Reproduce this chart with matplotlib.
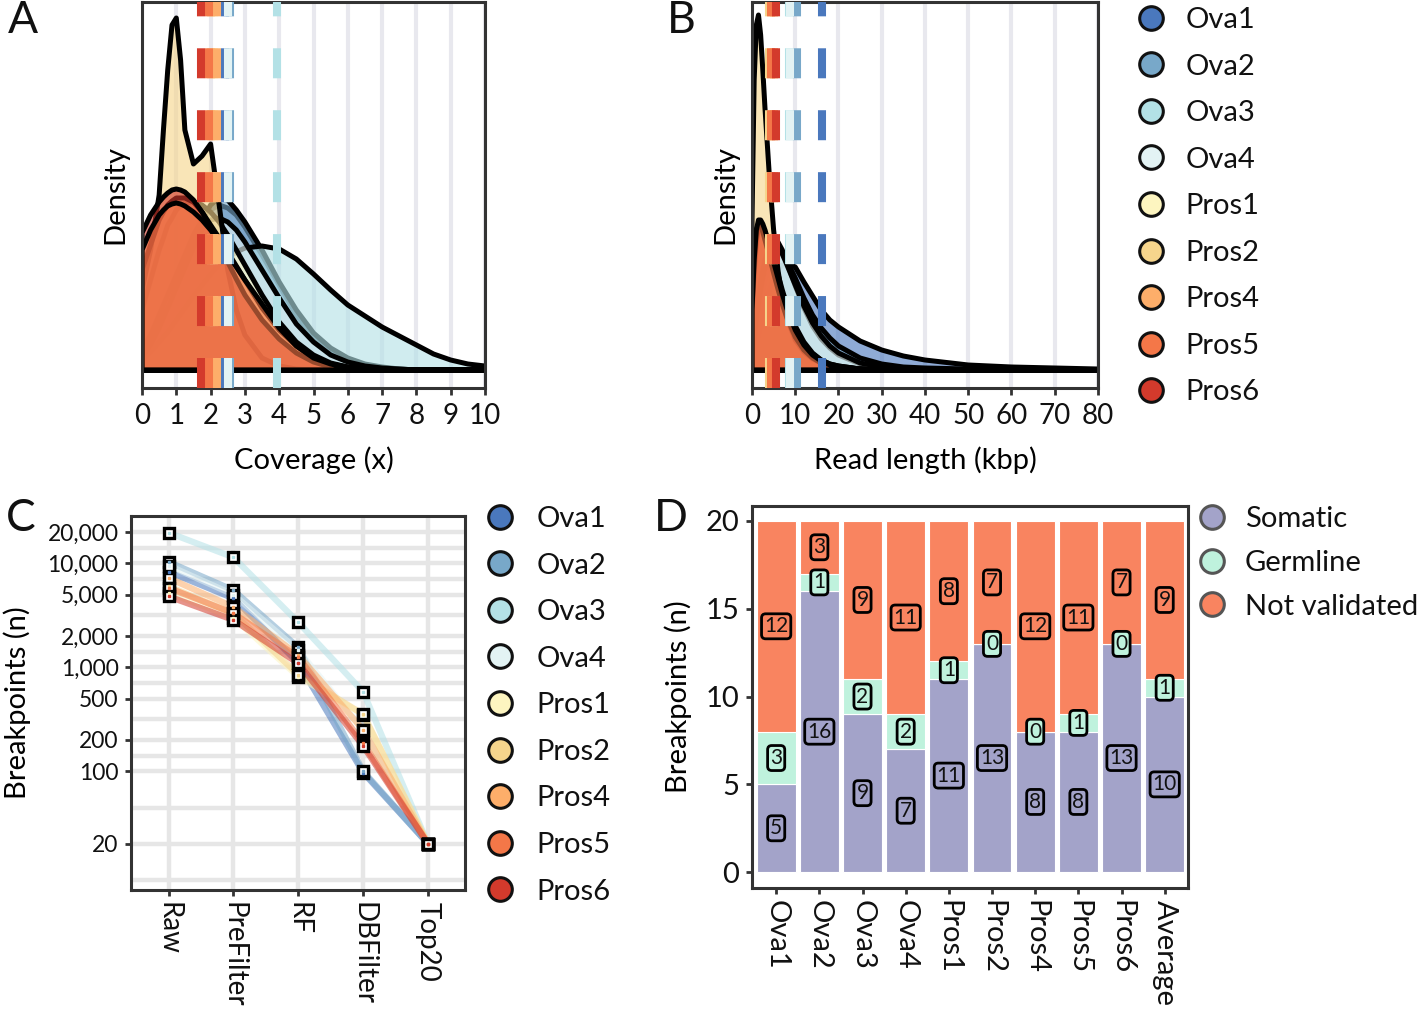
import numpy as np
import matplotlib
matplotlib.use('Agg')
from matplotlib import pyplot as plt
from matplotlib.lines import Line2D
from matplotlib.colors import to_rgba

plt.rcParams['font.family'] = ['Lato', 'DejaVu Sans']
plt.rcParams['lines.scale_dashes'] = False
plt.rcParams['text.color'] = '#111111'
plt.rcParams['xtick.color'] = '#333333'
plt.rcParams['ytick.color'] = '#333333'
plt.rcParams['xtick.labelcolor'] = '#111111'
plt.rcParams['ytick.labelcolor'] = '#111111'

samples = ['Ova1', 'Ova2', 'Ova3', 'Ova4', 'Pros1', 'Pros2', 'Pros4', 'Pros5', 'Pros6']
sample_colors = ['#4a78bd', '#78a8c9', '#b3e1e6', '#e3f3f4', '#fdf5c0',
                 '#f6d58c', '#fdae6a', '#f47748', '#d33a2c']

# --- A: coverage density (relative density)
cov_x = [0, 0.25, 0.5, 0.625, 0.75, 0.875, 1.0, 1.125, 1.25, 1.5, 1.75, 2.0, 2.25, 2.5, 2.75,
         3.0, 3.5, 4.0, 4.5, 5.0, 5.5, 6.0, 6.5, 7.0, 7.5, 8.0, 8.5, 9.0, 9.5, 10.0]
cov_ova1 = [20, 35, 55, 65, 75, 85, 95, 105, 115, 135, 150, 160, 165, 162, 155,
            143, 115, 85, 55, 33, 18, 9, 4, 2, 1, 0, 0, 0, 0, 0]
cov_ova2 = [15, 28, 45, 55, 62, 70, 85, 95, 105, 130, 150, 165, 172, 170, 160,
            148, 120, 88, 60, 37, 22, 12, 6, 3, 1, 0, 0, 0, 0, 0]
cov_ova3 = [10, 18, 28, 33, 38, 44, 50, 56, 62, 74, 85, 96, 105, 112, 118,
            122, 124, 121, 111, 96, 80, 65, 54, 43, 34, 25, 16, 10, 6, 4]
cov_ova4 = [12, 25, 42, 52, 62, 72, 82, 92, 102, 122, 140, 150, 152, 148, 140,
            128, 100, 72, 46, 28, 15, 8, 4, 2, 1, 0, 0, 0, 0, 0]
cov_pros1 = [60, 90, 120, 132, 145, 152, 160, 164, 167, 168, 165, 158, 148, 135, 120,
             105, 75, 48, 28, 15, 7, 3, 1, 0, 0, 0, 0, 0, 0, 0]
cov_pros2 = [80, 120, 175, 240, 300, 345, 352, 310, 240, 206, 214, 226, 165, 100, 60,
             35, 12, 4, 1, 0, 0, 0, 0, 0, 0, 0, 0, 0, 0, 0]
cov_pros4 = [100, 125, 150, 158, 165, 169, 172, 172, 172, 168, 158, 145, 132, 118, 104,
             90, 62, 40, 24, 12, 6, 3, 1, 0, 0, 0, 0, 0, 0, 0]
cov_pros5 = [120, 140, 155, 160, 164, 166, 167, 166, 164, 158, 150, 140, 128, 116, 103,
             90, 66, 42, 24, 12, 6, 2, 1, 0, 0, 0, 0, 0, 0, 0]
cov_pros6 = [137, 155, 168, 173, 177, 180, 181, 180, 178, 170, 158, 143, 126, 108, 91,
             75, 50, 31, 17, 8, 3, 1, 0, 0, 0, 0, 0, 0, 0, 0]
cov_means = [2.42, 2.58, 3.95, 2.5, 2.1, 2.0, 2.2, 1.95, 1.73]

# --- B: read length density (kbp)
len_x = [0, 0.5, 1, 1.5, 2, 2.5, 3, 4, 5, 6, 7, 8, 10, 12, 14, 16, 18, 20, 25, 30,
         35, 40, 50, 60, 70, 80]
len_ova1 = [5, 15, 25, 35, 45, 55, 65, 80, 92, 100, 105, 107, 103, 88, 74, 60, 50, 43, 29, 20,
            14, 10, 5, 3, 2, 1]
len_ova2 = [10, 25, 40, 55, 68, 80, 90, 105, 115, 118, 116, 110, 92, 72, 55, 42, 32, 24, 12, 6,
            3, 2, 1, 0, 0, 0]
len_ova3 = [15, 35, 55, 72, 88, 100, 110, 124, 130, 128, 120, 108, 84, 62, 44, 31, 22, 15, 6, 3,
            1, 0, 0, 0, 0, 0]
len_ova4 = [12, 30, 50, 66, 80, 92, 102, 115, 122, 122, 116, 106, 85, 64, 47, 34, 24, 17, 7, 3,
            1, 0, 0, 0, 0, 0]
len_pros1 = [50, 95, 125, 138, 142, 142, 138, 126, 112, 96, 80, 66, 44, 28, 17, 10, 6, 4, 1, 0,
             0, 0, 0, 0, 0, 0]
len_pros2 = [150, 290, 345, 355, 335, 300, 262, 195, 140, 100, 72, 52, 30, 18, 11, 7, 4, 3, 1, 0,
             0, 0, 0, 0, 0, 0]
len_pros4 = [55, 100, 130, 142, 145, 143, 138, 124, 108, 92, 77, 63, 41, 26, 16, 10, 6, 4, 1, 0,
             0, 0, 0, 0, 0, 0]
len_pros5 = [60, 110, 140, 150, 150, 146, 140, 125, 108, 92, 76, 62, 40, 25, 15, 9, 5, 3, 1, 0,
             0, 0, 0, 0, 0, 0]
len_pros6 = [65, 115, 140, 146, 144, 138, 130, 114, 97, 81, 66, 53, 33, 20, 12, 7, 4, 2, 1, 0,
             0, 0, 0, 0, 0, 0]
len_means = [16.3, 10.4, 8.6, 8.8, 5.0, 4.0, 5.0, 4.3, 5.6]

# --- C: breakpoints per filtering step
steps = ['Raw', 'PreFilter', 'RF', 'DBFilter', 'Top20']
bp_ova1 = [8300, 4600, 1100, 97, 20]
bp_ova2 = [10300, 5500, 1550, 100, 20]
bp_ova3 = [19700, 11400, 2700, 580, 20]
bp_ova4 = [9500, 5000, 1450, 250, 20]
bp_pros1 = [5200, 3000, 812, 350, 20]
bp_pros2 = [6000, 3300, 850, 353, 20]
bp_pros4 = [7200, 3800, 1310, 250, 20]
bp_pros5 = [5800, 3300, 1250, 186, 20]
bp_pros6 = [4800, 2850, 1090, 175, 20]
bp_ticks = [20, 100, 200, 500, 1000, 2000, 5000, 10000, 20000]

# --- D: validation of top 20 breakpoints
d_cats = ['Ova1', 'Ova2', 'Ova3', 'Ova4', 'Pros1', 'Pros2', 'Pros4', 'Pros5', 'Pros6', 'Average']
somatic = [5, 16, 9, 7, 11, 13, 8, 8, 13, 10]
germline = [3, 1, 2, 2, 1, 0, 0, 1, 0, 1]
not_validated = [12, 3, 9, 11, 8, 7, 12, 11, 7, 9]
val_labels = ['Somatic', 'Germline', 'Not validated']
val_colors = ['#a3a3c9', '#bff2dd', '#f98460']

cov_curves = [cov_ova1, cov_ova2, cov_ova3, cov_ova4, cov_pros1, cov_pros2, cov_pros4, cov_pros5, cov_pros6]
len_curves = [len_ova1, len_ova2, len_ova3, len_ova4, len_pros1, len_pros2, len_pros4, len_pros5, len_pros6]
bp_lines = [bp_ova1, bp_ova2, bp_ova3, bp_ova4, bp_pros1, bp_pros2, bp_pros4, bp_pros5, bp_pros6]

# fills stacked so that Pros5 ends on top
fill_order = [0, 1, 2, 3, 4, 5, 6, 8, 7]

FS = 21
FS_TICK = 20
W, H = 1418, 1010


def frame(ax):
    for s in ax.spines.values():
        s.set_color('#333333')
        s.set_linewidth(2.2)


def density_panel(ax, xs, curves, means, xlim, xticks, xlabel):
    for t in xticks:
        ax.axvline(t, color='#e8e8ee', lw=3, zorder=0)
    for i in fill_order:
        px = [xs[0]] + list(xs) + [xs[-1]]
        py = [0] + list(curves[i]) + [0]
        ax.fill(px, py, facecolor=to_rgba(sample_colors[i], 0.62), edgecolor='black', lw=3.6,
                zorder=2, joinstyle='round')
    for m, c in zip(means, sample_colors):
        ax.plot([m, m], [-18, 368], color=c, lw=5.8, dashes=(21.6, 23), zorder=3,
                solid_capstyle='butt')
    ax.set_xlim(*xlim)
    ax.set_ylim(-18, 368)
    ax.set_xticks(xticks)
    ax.set_yticks([])
    ax.tick_params(axis='x', labelsize=FS_TICK, length=5, width=2, pad=6)
    ax.set_xlabel(xlabel, fontsize=FS, labelpad=12)
    ax.set_ylabel('Density', fontsize=FS, labelpad=10)
    frame(ax)


def circles(colors, edge):
    return [Line2D([], [], ls='', marker='o', markersize=17, markerfacecolor=c,
                   markeredgecolor=edge, markeredgewidth=2.2) for c in colors]


fig = plt.figure(figsize=(W / 100, H / 100), dpi=100)

axA = fig.add_axes([142 / W, 1 - 388 / H, 343 / W, 386 / H])
density_panel(axA, cov_x, cov_curves, cov_means, (0, 10), list(range(0, 11)), 'Coverage (x)')

axB = fig.add_axes([752 / W, 1 - 388 / H, 346 / W, 386 / H])
density_panel(axB, len_x, len_curves, len_means, (0, 80), list(range(0, 81, 10)), 'Read length (kbp)')

fig.legend(circles(sample_colors, '#111111'), samples, loc='upper left',
           bbox_to_anchor=(1136 / W, 1 - 7 / H), frameon=False, fontsize=FS,
           handlelength=1.0, handletextpad=0.7, labelspacing=0.705, borderpad=0, borderaxespad=0)

# --- C
axC = fig.add_axes([131 / W, 1 - 890 / H, 334 / W, 374 / H])
xs = np.arange(len(steps))
minor = [9] + [np.sqrt(a * b) for a, b in zip(bp_ticks[:-1], bp_ticks[1:])]
for v in bp_ticks + minor:
    axC.axhline(v, color='#e6e6e6', lw=3.2, zorder=0)
for x in xs:
    axC.axvline(x, color='#e6e6e6', lw=3.2, zorder=0)
for vals, c in zip(bp_lines, sample_colors):
    axC.plot(xs, vals, color=c, lw=4.5, alpha=0.55, zorder=2, solid_capstyle='round')
for vals, c in zip(bp_lines, sample_colors):
    axC.plot(xs, vals, ls='', marker='s', markersize=7.5, markerfacecolor='white',
             markeredgecolor='black', markeredgewidth=2.4, zorder=3)
    axC.plot(xs, vals, ls='', marker='s', markersize=2, markerfacecolor=c,
             markeredgecolor=c, zorder=4)
axC.set_yscale('log')
axC.set_ylim(7.2, 28500)
axC.set_xlim(-0.58, 4.57)
axC.set_yticks(bp_ticks)
axC.set_yticklabels(['{:,}'.format(v) for v in bp_ticks])
axC.minorticks_off()
axC.set_xticks(xs)
axC.set_xticklabels(steps, rotation=270, va='top', ha='center')
axC.tick_params(labelsize=20, length=4, width=2, pad=5)
axC.tick_params(axis='y', labelsize=16.5)
axC.set_ylabel('Breakpoints (n)', fontsize=FS, labelpad=12)
frame(axC)

fig.legend(circles(sample_colors, '#111111'), samples, loc='upper left',
           bbox_to_anchor=(485 / W, 1 - 506 / H), frameon=False, fontsize=FS,
           handlelength=1.0, handletextpad=0.77, labelspacing=0.705, borderpad=0, borderaxespad=0)

# --- D
axD = fig.add_axes([752 / W, 1 - 888 / H, 436 / W, 382 / H])
xd = np.arange(len(d_cats))
bottoms = [np.zeros(len(d_cats)), np.array(somatic), np.array(somatic) + np.array(germline)]
for vals, bot, c in zip([somatic, germline, not_validated], bottoms, val_colors):
    axD.bar(xd, vals, bottom=bot, width=0.9, color=c, edgecolor='white', lw=0.8, zorder=2)
    for x, v, b in zip(xd, vals, bot):
        axD.text(x, b + v / 2, str(v), ha='center', va='center', fontsize=15, zorder=4,
                 bbox=dict(boxstyle='round,pad=0.12,rounding_size=0.2', fc=c, ec='black', lw=2))
axD.set_xlim(-0.56, 9.54)
axD.set_ylim(-0.9, 20.85)
axD.set_yticks([0, 5, 10, 15, 20])
axD.set_xticks(xd)
axD.set_xticklabels(d_cats, rotation=270, va='top', ha='center')
axD.tick_params(labelsize=FS, length=4, width=2, pad=5)
axD.set_ylabel('Breakpoints (n)', fontsize=FS, labelpad=10)
frame(axD)

fig.legend(circles(val_colors, '#555555'), val_labels, loc='upper left',
           bbox_to_anchor=(1197 / W, 1 - 506 / H), frameon=False, fontsize=FS,
           handlelength=1.0, handletextpad=0.63, labelspacing=0.61, borderpad=0, borderaxespad=0)

for lab, x, y in [('A', 8, 0), ('B', 667, 0), ('C', 6, 498), ('D', 654, 498)]:
    fig.text(x / W, 1 - y / H, lab, fontsize=32, va='top', ha='left')

fig.savefig('out.png', dpi=100)
